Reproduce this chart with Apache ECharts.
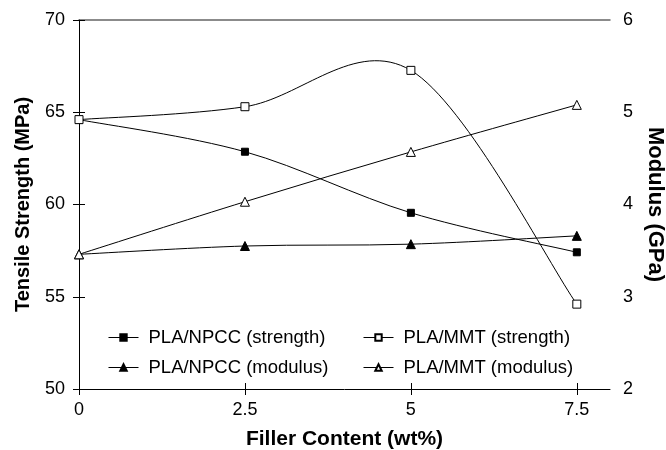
<!DOCTYPE html>
<html><head><meta charset="utf-8">
<script src="https://cdn.jsdelivr.net/npm/echarts@6/dist/echarts.min.js"></script>
<style>html,body{margin:0;padding:0;background:#fff}#c{width:666px;height:450px}</style>
</head><body><div id="c"></div>
<script>
const fillerContent = [0, 2.5, 5, 7.5];
const xTickValues = [0, 2.5, 5, 7.5];
const npccStrength = [64.6, 62.86, 59.55, 57.41];
const mmtStrength = [64.6, 65.3, 67.27, 54.6];
const npccModulus = [3.46, 3.55, 3.57, 3.66];
const mmtModulus = [3.46, 4.03, 4.57, 5.08];
const seriesNames = ['PLA/NPCC (strength)', 'PLA/MMT (strength)', 'PLA/NPCC (modulus)', 'PLA/MMT (modulus)'];

const FONT = 'Liberation Sans, Arial, sans-serif';

function pairs(ys) { return fillerContent.map((x, i) => [x, ys[i]]); }

function curveSeries(name, ys, yAxisIndex) {
  const pts = pairs(ys);
  return {
    type: 'custom', name: name + ' curve', xAxisIndex: 0, yAxisIndex: yAxisIndex,
    data: pts, silent: true, z: 2, animation: false,
    encode: { x: 0, y: 1 },
    renderItem: function (params, api) {
      const i = params.dataIndex;
      if (i >= pts.length - 1) return null;
      const P = pts.map(p => api.coord(p));
      const p0 = P[Math.max(i - 1, 0)], p1 = P[i], p2 = P[i + 1], p3 = P[Math.min(i + 2, P.length - 1)];
      return {
        type: 'bezierCurve',
        shape: {
          x1: p1[0], y1: p1[1], x2: p2[0], y2: p2[1],
          cpx1: p1[0] + (p2[0] - p0[0]) / 6, cpy1: p1[1] + (p2[1] - p0[1]) / 6,
          cpx2: p2[0] - (p3[0] - p1[0]) / 6, cpy2: p2[1] - (p3[1] - p1[1]) / 6
        },
        style: { stroke: '#000', lineWidth: 1, fill: null }
      };
    }
  };
}

function markSeries(name, ys, yAxisIndex, symbol, size, filled) {
  return {
    type: 'line', name: name, xAxisIndex: 0, yAxisIndex: yAxisIndex,
    data: pairs(ys), symbol: symbol, symbolSize: size, showSymbol: true,
    lineStyle: { color: '#000', width: 1, opacity: 0 },
    itemStyle: { color: filled ? '#000' : '#fff', borderColor: '#000', borderWidth: 1 },
    emphasis: { disabled: true }, z: 3, animation: false
  };
}

const chart = echarts.init(document.getElementById('c'), null, { renderer: 'canvas' });
const legendCommon = {
  orient: 'vertical', itemWidth: 30, itemHeight: 8, itemGap: 11, padding: 0,
  textStyle: { fontFamily: FONT, fontSize: 18.5, color: '#000', padding: [0, 0, 0, 5] },
  lineStyle: { opacity: 1, color: '#000', width: 1 },
  selectedMode: false
};
chart.setOption({
  animation: false,
  backgroundColor: '#fff',
  textStyle: { fontFamily: FONT },
  grid: { left: 79, right: 56, top: 20, bottom: 61, containLabel: false, outerBoundsMode: 'none' },
  legend: [
    Object.assign({ left: 108, top: 328, data: [seriesNames[0], seriesNames[2]] }, legendCommon),
    Object.assign({ left: 363, top: 328, data: [seriesNames[1], seriesNames[3]] }, legendCommon)
  ],
  xAxis: [
    {
      type: 'value', position: 'bottom', min: 0, max: 8,
      name: 'Filler Content (wt%)', nameLocation: 'middle', nameGap: 40,
      nameTextStyle: { fontFamily: FONT, fontSize: 21, fontWeight: 'bold', color: '#000' },
      axisLine: { lineStyle: { color: '#000', width: 1 } },
      axisTick: { show: true, length: 6, customValues: xTickValues, lineStyle: { color: '#000' } },
      axisLabel: { customValues: xTickValues, fontSize: 18, color: '#000', margin: 12, fontFamily: FONT },
      splitLine: { show: false }
    },
    {
      type: 'value', position: 'top', min: 0, max: 8,
      axisLine: { lineStyle: { color: '#666', width: 1.5 } },
      axisTick: { show: false }, axisLabel: { show: false }, splitLine: { show: false }
    },
    {
      type: 'value', position: 'bottom', min: 0, max: 8,
      axisLine: { show: false },
      axisTick: { show: true, inside: true, length: 6, customValues: xTickValues, lineStyle: { color: '#000' } },
      axisLabel: { show: false }, splitLine: { show: false }
    }
  ],
  yAxis: [
    {
      type: 'value', position: 'left', min: 50, max: 70, interval: 5,
      name: 'Tensile Strength (MPa)', nameLocation: 'middle', nameGap: 46, nameRotate: 90,
      nameTextStyle: { fontFamily: FONT, fontSize: 20, fontWeight: 'bold', color: '#000' },
      axisLine: { show: true, lineStyle: { color: '#000', width: 1 } },
      axisTick: { show: true, length: 5, lineStyle: { color: '#000' } },
      axisLabel: { fontSize: 18, color: '#000', margin: 14, fontFamily: FONT },
      splitLine: { show: false }
    },
    {
      type: 'value', position: 'right', min: 2, max: 6, interval: 1,
      name: 'Modulus (GPa)', nameLocation: 'middle', nameGap: 32, nameRotate: -90,
      nameTextStyle: { fontFamily: FONT, fontSize: 22, fontWeight: 'bold', color: '#000' },
      axisLine: { show: true, lineStyle: { color: '#000', width: 1 } },
      axisTick: { show: true, length: 6, lineStyle: { color: '#000' } },
      axisLabel: { fontSize: 18, color: '#000', margin: 13, fontFamily: FONT },
      splitLine: { show: false }
    },
    {
      type: 'value', position: 'right', min: 2, max: 6, interval: 1,
      axisLine: { show: false },
      axisTick: { show: true, inside: true, length: 6, lineStyle: { color: '#000' } },
      axisLabel: { show: false }, splitLine: { show: false }
    }
  ],
  series: [
    curveSeries(seriesNames[0], npccStrength, 0),
    curveSeries(seriesNames[1], mmtStrength, 0),
    curveSeries(seriesNames[2], npccModulus, 1),
    curveSeries(seriesNames[3], mmtModulus, 1),
    markSeries(seriesNames[0], npccStrength, 0, 'rect', 7, true),
    markSeries(seriesNames[1], mmtStrength, 0, 'rect', 8, false),
    markSeries(seriesNames[2], npccModulus, 1, 'triangle', 9, true),
    markSeries(seriesNames[3], mmtModulus, 1, 'triangle', 9, false)
  ]
});
</script></body></html>
